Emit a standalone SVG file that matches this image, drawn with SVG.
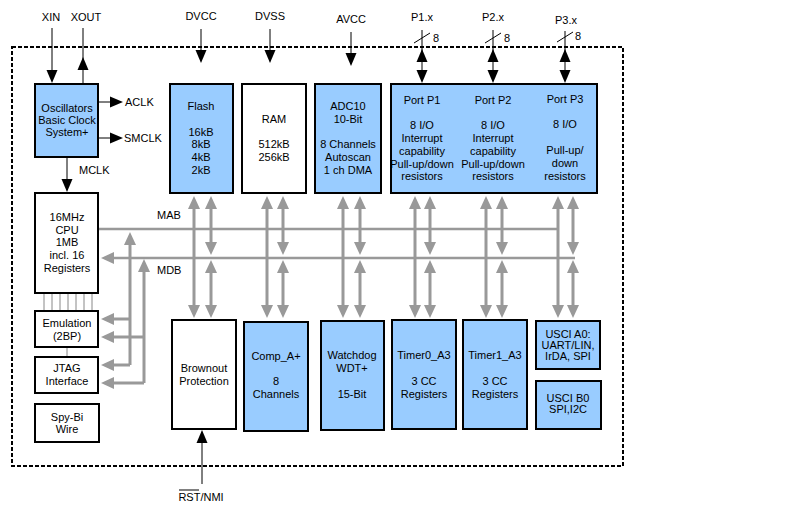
<svg xmlns="http://www.w3.org/2000/svg" xmlns:xlink="http://www.w3.org/1999/xlink" width="789" height="516" viewBox="0 0 789 516">
<style>
  text { font-family: "Liberation Sans", Arial, sans-serif; font-size: 11px; fill: #000; }
  .c { text-anchor: middle; }
  .box { stroke: #000; stroke-width: 2; }
  .blue { fill: #99ccff; }
  .white { fill: #ffffff; }
  .blk { stroke: #000; stroke-width: 1; fill: none; }
  .bus { stroke: #999999; stroke-width: 3; fill: none; }
  .hbus { stroke: #999999; stroke-width: 2.5; fill: none; }
  .thin { stroke: #888888; stroke-width: 1; fill: none; }
  .border { fill: none; stroke: #000; stroke-width: 2; stroke-dasharray: 4 2; }
</style>
<defs>
  <path id="hb" d="M0,0 L-5.5,13 L5.5,13 Z" fill="#000"/>
  <path id="hg" d="M0,0 L-6,13 L6,13 Z" fill="#999999"/>
</defs>
<rect width="789" height="516" fill="#ffffff"/>
<rect class="border" x="12" y="47" width="611" height="419"/>

<g id="connectors">
  <!-- clock pins -->
  <line class="blk" x1="52" y1="28" x2="52" y2="76"/>
  <use xlink:href="#hb" transform="translate(52,83) rotate(180)"/>
  <line class="blk" x1="83" y1="28" x2="83" y2="84"/>
  <use xlink:href="#hb" transform="translate(83,57)"/>
  <line class="blk" x1="99" y1="102" x2="116" y2="102"/>
  <use xlink:href="#hb" transform="translate(123,102) rotate(90)"/>
  <line class="blk" x1="99" y1="138" x2="116" y2="138"/>
  <use xlink:href="#hb" transform="translate(123,138) rotate(90)"/>
  <line class="blk" x1="67" y1="158" x2="67" y2="186"/>
  <use xlink:href="#hb" transform="translate(67,192) rotate(180)"/>
  <!-- supplies -->
  <line class="blk" x1="201" y1="29" x2="201" y2="56"/>
  <use xlink:href="#hb" transform="translate(201,63) rotate(180)"/>
  <line class="blk" x1="270" y1="29" x2="270" y2="56"/>
  <use xlink:href="#hb" transform="translate(270,63) rotate(180)"/>
  <line class="blk" x1="351" y1="32" x2="351" y2="59"/>
  <use xlink:href="#hb" transform="translate(351,66) rotate(180)"/>
  <!-- ports -->
  <line class="blk" x1="422" y1="30" x2="422" y2="78"/>
  <use xlink:href="#hb" transform="translate(422,49)"/>
  <use xlink:href="#hb" transform="translate(422,83) rotate(180)"/>
  <line class="blk" x1="414" y1="43" x2="430" y2="33"/>
  <line class="blk" x1="493" y1="30" x2="493" y2="78"/>
  <use xlink:href="#hb" transform="translate(493,49)"/>
  <use xlink:href="#hb" transform="translate(493,83) rotate(180)"/>
  <line class="blk" x1="485" y1="43" x2="501" y2="33"/>
  <line class="blk" x1="565" y1="31" x2="565" y2="78"/>
  <use xlink:href="#hb" transform="translate(565,49)"/>
  <use xlink:href="#hb" transform="translate(565,83) rotate(180)"/>
  <line class="blk" x1="557" y1="42" x2="573" y2="32"/>
  <!-- reset -->
  <line class="blk" x1="202" y1="484" x2="202" y2="436"/>
  <use xlink:href="#hb" transform="translate(202,430)"/>

  <!-- CPU to emulation thin lines -->
  <line class="thin" x1="44" y1="294" x2="44" y2="310"/>
  <line class="thin" x1="52" y1="294" x2="52" y2="310"/>
  <line class="thin" x1="60" y1="294" x2="60" y2="310"/>
  <line class="thin" x1="68" y1="294" x2="68" y2="310"/>
  <line class="thin" x1="76" y1="294" x2="76" y2="310"/>
  <line class="thin" x1="84" y1="294" x2="84" y2="310"/>
  <line class="thin" x1="92" y1="294" x2="92" y2="310"/>
  <line class="thin" x1="67" y1="348" x2="67" y2="356"/>

  <!-- MAB / MDB -->
  <line class="hbus" x1="99" y1="229" x2="558" y2="229"/>
  <line class="hbus" x1="107" y1="258" x2="575" y2="258"/>
  <use xlink:href="#hg" transform="translate(101,258) rotate(-90)"/>

  <!-- emulation / JTAG feeds -->
  <path class="bus" d="M130,238 V365 M130,319 H107 M130,365 H107"/>
  <use xlink:href="#hg" transform="translate(130,232)"/>
  <use xlink:href="#hg" transform="translate(101,319) rotate(-90)"/>
  <use xlink:href="#hg" transform="translate(101,365) rotate(-90)"/>
  <path class="bus" d="M144,265 V383 M144,337 H107 M144,383 H107"/>
  <use xlink:href="#hg" transform="translate(144,259)"/>
  <use xlink:href="#hg" transform="translate(101,337) rotate(-90)"/>
  <use xlink:href="#hg" transform="translate(101,383) rotate(-90)"/>

  <!-- module columns -->
  <g id="col-flash">
    <line class="bus" x1="194" y1="202" x2="194" y2="312"/>
    <use xlink:href="#hg" transform="translate(194,196)"/>
    <use xlink:href="#hg" transform="translate(194,318) rotate(180)"/>
    <line class="bus" x1="211" y1="202" x2="211" y2="249"/>
    <line class="bus" x1="211" y1="266" x2="211" y2="312"/>
    <use xlink:href="#hg" transform="translate(211,196)"/>
    <use xlink:href="#hg" transform="translate(211,255) rotate(180)"/>
    <use xlink:href="#hg" transform="translate(211,260)"/>
    <use xlink:href="#hg" transform="translate(211,318) rotate(180)"/>
  </g>
  <g id="col-ram">
    <line class="bus" x1="267" y1="202" x2="267" y2="312"/>
    <use xlink:href="#hg" transform="translate(267,196)"/>
    <use xlink:href="#hg" transform="translate(267,318) rotate(180)"/>
    <line class="bus" x1="283" y1="202" x2="283" y2="249"/>
    <line class="bus" x1="283" y1="266" x2="283" y2="312"/>
    <use xlink:href="#hg" transform="translate(283,196)"/>
    <use xlink:href="#hg" transform="translate(283,255) rotate(180)"/>
    <use xlink:href="#hg" transform="translate(283,260)"/>
    <use xlink:href="#hg" transform="translate(283,318) rotate(180)"/>
  </g>
  <g id="col-adc">
    <line class="bus" x1="343" y1="202" x2="343" y2="312"/>
    <use xlink:href="#hg" transform="translate(343,196)"/>
    <use xlink:href="#hg" transform="translate(343,318) rotate(180)"/>
    <line class="bus" x1="360" y1="202" x2="360" y2="249"/>
    <line class="bus" x1="360" y1="266" x2="360" y2="312"/>
    <use xlink:href="#hg" transform="translate(360,196)"/>
    <use xlink:href="#hg" transform="translate(360,255) rotate(180)"/>
    <use xlink:href="#hg" transform="translate(360,260)"/>
    <use xlink:href="#hg" transform="translate(360,318) rotate(180)"/>
  </g>
  <g id="col-p1">
    <line class="bus" x1="415" y1="202" x2="415" y2="312"/>
    <use xlink:href="#hg" transform="translate(415,196)"/>
    <use xlink:href="#hg" transform="translate(415,318) rotate(180)"/>
    <line class="bus" x1="430" y1="202" x2="430" y2="249"/>
    <line class="bus" x1="430" y1="266" x2="430" y2="312"/>
    <use xlink:href="#hg" transform="translate(430,196)"/>
    <use xlink:href="#hg" transform="translate(430,255) rotate(180)"/>
    <use xlink:href="#hg" transform="translate(430,260)"/>
    <use xlink:href="#hg" transform="translate(430,318) rotate(180)"/>
  </g>
  <g id="col-p2">
    <line class="bus" x1="486" y1="202" x2="486" y2="312"/>
    <use xlink:href="#hg" transform="translate(486,196)"/>
    <use xlink:href="#hg" transform="translate(486,318) rotate(180)"/>
    <line class="bus" x1="502" y1="202" x2="502" y2="249"/>
    <line class="bus" x1="502" y1="266" x2="502" y2="312"/>
    <use xlink:href="#hg" transform="translate(502,196)"/>
    <use xlink:href="#hg" transform="translate(502,255) rotate(180)"/>
    <use xlink:href="#hg" transform="translate(502,260)"/>
    <use xlink:href="#hg" transform="translate(502,318) rotate(180)"/>
  </g>
  <g id="col-p3">
    <line class="bus" x1="558" y1="202" x2="558" y2="312"/>
    <use xlink:href="#hg" transform="translate(558,196)"/>
    <use xlink:href="#hg" transform="translate(558,318) rotate(180)"/>
    <line class="bus" x1="573" y1="202" x2="573" y2="249"/>
    <line class="bus" x1="573" y1="266" x2="573" y2="312"/>
    <use xlink:href="#hg" transform="translate(573,196)"/>
    <use xlink:href="#hg" transform="translate(573,255) rotate(180)"/>
    <use xlink:href="#hg" transform="translate(573,260)"/>
    <use xlink:href="#hg" transform="translate(573,318) rotate(180)"/>
  </g>
</g>

<g id="labels">
  <text class="c" x="51" y="21">XIN</text>
  <text class="c" x="86" y="21">XOUT</text>
  <text class="c" x="201" y="20">DVCC</text>
  <text class="c" x="270" y="20">DVSS</text>
  <text class="c" x="351" y="23">AVCC</text>
  <text class="c" x="422" y="21">P1.x</text>
  <text class="c" x="493" y="21">P2.x</text>
  <text class="c" x="566" y="24">P3.x</text>
  <text x="433" y="42">8</text>
  <text x="504" y="42">8</text>
  <text x="575" y="40">8</text>
  <text x="125" y="106">ACLK</text>
  <text x="124" y="142">SMCLK</text>
  <text x="79" y="174">MCLK</text>
  <text x="157" y="219">MAB</text>
  <text x="157" y="274">MDB</text>
  <text class="c" x="201" y="501">RST/NMI</text>
  <line x1="179" y1="490" x2="199" y2="490" stroke="#000" stroke-width="1"/>
</g>

<g id="osc">
  <rect class="box blue" x="35" y="84" width="63" height="73"/>
  <text class="c" x="67" y="112">Oscillators</text>
  <text class="c" x="67" y="124">Basic Clock</text>
  <text class="c" x="67" y="136">System+</text>
</g>
<g id="cpu">
  <rect class="box white" x="35" y="193" width="63" height="100"/>
  <text class="c" x="67" y="221">16MHz</text>
  <text class="c" x="67" y="234">CPU</text>
  <text class="c" x="67" y="246">1MB</text>
  <text class="c" x="67" y="259">incl. 16</text>
  <text class="c" x="67" y="272">Registers</text>
</g>
<g id="emulation">
  <rect class="box white" x="35" y="311" width="63" height="36"/>
  <text class="c" x="67" y="327">Emulation</text>
  <text class="c" x="67" y="340">(2BP)</text>
</g>
<g id="jtag">
  <rect class="box white" x="35" y="357" width="63" height="36"/>
  <text class="c" x="67" y="372">JTAG</text>
  <text class="c" x="67" y="385">Interface</text>
</g>
<g id="spybi">
  <rect class="box white" x="35" y="404" width="64" height="38"/>
  <text class="c" x="67" y="421">Spy-Bi</text>
  <text class="c" x="67" y="433">Wire</text>
</g>
<g id="flash">
  <rect class="box blue" x="170" y="84" width="63" height="109"/>
  <text class="c" x="201" y="110">Flash</text>
  <text class="c" x="201" y="136">16kB</text>
  <text class="c" x="201" y="148">8kB</text>
  <text class="c" x="201" y="161">4kB</text>
  <text class="c" x="201" y="174">2kB</text>
</g>
<g id="ram">
  <rect class="box white" x="242" y="84" width="64" height="109"/>
  <text class="c" x="274" y="123">RAM</text>
  <text class="c" x="274" y="148">512kB</text>
  <text class="c" x="274" y="161">256kB</text>
</g>
<g id="adc">
  <rect class="box blue" x="315" y="84" width="66" height="109"/>
  <text class="c" x="348" y="110">ADC10</text>
  <text class="c" x="348" y="123">10-Bit</text>
  <text class="c" x="348" y="148">8 Channels</text>
  <text class="c" x="348" y="161">Autoscan</text>
  <text class="c" x="348" y="174">1 ch DMA</text>
</g>
<g id="ports">
  <rect class="box blue" x="391" y="84" width="206" height="109"/>
  <text class="c" x="422" y="104">Port P1</text>
  <text class="c" x="422" y="129">8 I/O</text>
  <text class="c" x="422" y="142">Interrupt</text>
  <text class="c" x="422" y="155">capability</text>
  <text class="c" x="422" y="168">Pull-up/down</text>
  <text class="c" x="422" y="180">resistors</text>
  <text class="c" x="493" y="104">Port P2</text>
  <text class="c" x="493" y="129">8 I/O</text>
  <text class="c" x="493" y="142">Interrupt</text>
  <text class="c" x="493" y="155">capability</text>
  <text class="c" x="493" y="168">Pull-up/down</text>
  <text class="c" x="493" y="180">resistors</text>
  <text class="c" x="565" y="103">Port P3</text>
  <text class="c" x="565" y="128">8 I/O</text>
  <text class="c" x="565" y="154">Pull-up/</text>
  <text class="c" x="565" y="167">down</text>
  <text class="c" x="565" y="180">resistors</text>
</g>
<g id="brownout">
  <rect class="box white" x="172" y="320" width="64" height="109"/>
  <text class="c" x="204" y="372">Brownout</text>
  <text class="c" x="204" y="385">Protection</text>
</g>
<g id="comp">
  <rect class="box blue" x="244" y="322" width="64" height="109"/>
  <text class="c" x="276" y="360">Comp_A+</text>
  <text class="c" x="276" y="385">8</text>
  <text class="c" x="276" y="398">Channels</text>
</g>
<g id="watchdog">
  <rect class="box blue" x="321" y="321" width="63" height="109"/>
  <text class="c" x="352" y="359">Watchdog</text>
  <text class="c" x="352" y="372">WDT+</text>
  <text class="c" x="352" y="398">15-Bit</text>
</g>
<g id="timer0">
  <rect class="box blue" x="392" y="320" width="64" height="109"/>
  <text class="c" x="424" y="359">Timer0_A3</text>
  <text class="c" x="424" y="385">3 CC</text>
  <text class="c" x="424" y="398">Registers</text>
</g>
<g id="timer1">
  <rect class="box blue" x="463" y="320" width="64" height="109"/>
  <text class="c" x="495" y="359">Timer1_A3</text>
  <text class="c" x="495" y="385">3 CC</text>
  <text class="c" x="495" y="398">Registers</text>
</g>
<g id="uscia0">
  <rect class="box blue" x="536" y="321" width="64" height="48"/>
  <text class="c" x="568" y="338">USCI A0:</text>
  <text class="c" x="568" y="349">UART/LIN,</text>
  <text class="c" x="568" y="360">IrDA, SPI</text>
</g>
<g id="uscib0">
  <rect class="box blue" x="536" y="381" width="65" height="48"/>
  <text class="c" x="568" y="402">USCI B0</text>
  <text class="c" x="568" y="413">SPI,I2C</text>
</g>
</svg>
